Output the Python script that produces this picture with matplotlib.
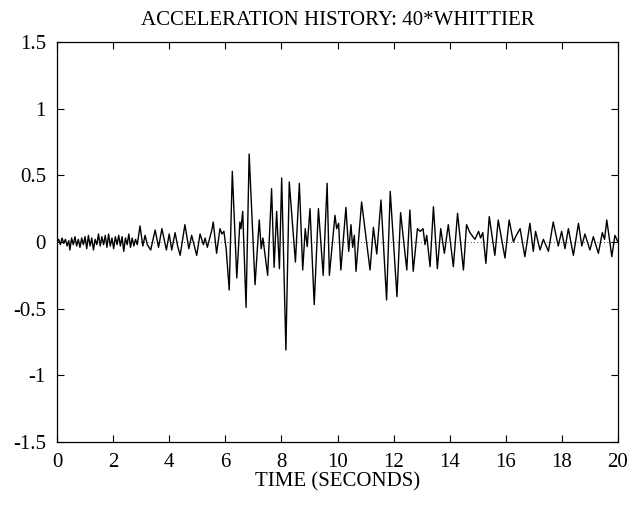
import numpy as np
import matplotlib
matplotlib.use('Agg')
import matplotlib.pyplot as plt

# turning points of the trace (time in s, acceleration in g)
t_pts = [0.00, 0.06, 0.12, 0.18, 0.24, 0.30, 0.36, 0.42, 0.46, 0.52,
         0.58, 0.64, 0.70, 0.76, 0.82, 0.88, 0.94, 1.00, 1.06, 1.12,
         1.18, 1.24, 1.30, 1.36, 1.42, 1.48, 1.54, 1.60, 1.66, 1.72,
         1.78, 1.84, 1.90, 1.96, 2.02, 2.08, 2.14, 2.20, 2.26, 2.32,
         2.38, 2.44, 2.50, 2.56, 2.62, 2.68, 2.74, 2.80, 2.86, 2.96,
         3.06, 3.14, 3.22, 3.34, 3.50, 3.62, 3.74, 3.90, 4.00, 4.09,
         4.21, 4.30, 4.39, 4.56, 4.70, 4.80, 4.98, 5.10, 5.22, 5.28,
         5.36, 5.52, 5.57, 5.69, 5.81, 5.88, 5.95, 6.03, 6.14, 6.25,
         6.41, 6.52, 6.56, 6.62, 6.74, 6.85, 7.06, 7.21, 7.28, 7.34,
         7.51, 7.65, 7.74, 7.83, 7.93, 8.01, 8.16, 8.28, 8.50, 8.64,
         8.76, 8.85, 8.92, 9.02, 9.17, 9.32, 9.49, 9.63, 9.71, 9.91,
         9.97, 10.04, 10.12, 10.30, 10.40, 10.48, 10.54, 10.60, 10.66, 10.86,
         11.16, 11.28, 11.40, 11.55, 11.75, 11.88, 12.12, 12.25, 12.47, 12.58,
         12.70, 12.85, 12.95, 13.05, 13.12, 13.18, 13.30, 13.42, 13.56, 13.68,
         13.81, 13.95, 14.13, 14.28, 14.49, 14.60, 14.72, 14.90, 15.03, 15.10,
         15.18, 15.29, 15.41, 15.61, 15.73, 15.97, 16.12, 16.27, 16.35, 16.51,
         16.68, 16.86, 16.98, 17.06, 17.22, 17.34, 17.52, 17.69, 17.87, 17.99,
         18.11, 18.23, 18.41, 18.59, 18.71, 18.82, 19.00, 19.12, 19.30, 19.44,
         19.52, 19.60, 19.78, 19.89, 20.00]
acc = [0.00, 0.02, -0.02, 0.03, -0.01, 0.02, -0.03, 0.01, -0.06, 0.03,
       -0.02, 0.04, -0.03, 0.02, -0.04, 0.03, -0.02, 0.04, -0.05, 0.05,
       -0.03, 0.03, -0.06, 0.02, -0.02, 0.06, -0.03, 0.04, -0.02, 0.05,
       -0.04, 0.06, -0.03, 0.03, -0.05, 0.04, -0.02, 0.05, -0.03, 0.04,
       -0.07, 0.03, -0.02, 0.06, -0.04, 0.03, -0.03, 0.02, -0.02, 0.12,
       -0.03, 0.05, -0.02, -0.06, 0.09, -0.04, 0.10, -0.06, 0.06, -0.06,
       0.07, -0.03, -0.10, 0.13, -0.05, 0.05, -0.10, 0.06, -0.02, 0.03,
       -0.04, 0.09, 0.15, -0.085, 0.10, 0.06, 0.08, -0.05, -0.36, 0.53,
       -0.27, 0.15, 0.10, 0.23, -0.49, 0.66, -0.32, 0.165, -0.05, 0.03,
       -0.25, 0.40, -0.19, 0.23, -0.20, 0.48, -0.81, 0.45, -0.15, 0.44,
       -0.21, 0.10, -0.035, 0.25, -0.47, 0.25, -0.25, 0.44, -0.25, 0.20,
       0.10, 0.14, -0.21, 0.26, -0.07, 0.13, -0.04, 0.05, -0.22, 0.30,
       -0.21, 0.11, -0.09, 0.315, -0.435, 0.38, -0.41, 0.22, -0.21, 0.24,
       -0.22, 0.10, 0.08, 0.10, -0.02, 0.05, -0.185, 0.265, -0.20, 0.10,
       -0.085, 0.13, -0.185, 0.215, -0.21, 0.13, 0.07, 0.02, 0.08, 0.03,
       0.07, -0.16, 0.19, -0.10, 0.165, -0.12, 0.165, 0.00, 0.04, 0.10,
       -0.11, 0.14, -0.07, 0.08, -0.06, 0.02, -0.07, 0.15, -0.03, 0.08,
       -0.05, 0.10, -0.10, 0.14, -0.03, 0.06, -0.06, 0.04, -0.085, 0.07,
       0.02, 0.165, -0.11, 0.05, 0.00]

x_ticks = [0, 2, 4, 6, 8, 10, 12, 14, 16, 18, 20]
y_ticks = [-1.5, -1, -0.5, 0, 0.5, 1, 1.5]
y_labels = ['-1.5', '-1', '-0.5', '0', '0.5', '1', '1.5']

plt.rcParams['font.family'] = ['Liberation Serif', 'DejaVu Serif']

fig = plt.figure(figsize=(6.38, 5.07), dpi=100)
ax = fig.add_axes([57/638, 1-442/507, 561/638, 400/507])

ax.plot(t_pts, acc, color='black', linewidth=1.0, solid_joinstyle='round')
ax.axhline(0, color='black', linewidth=0.6, linestyle=(0, (1, 3)))

ax.set_xlim(0, 20)
ax.set_ylim(-1.5, 1.5)
ax.set_xticks(x_ticks)
ax.set_xticklabels([str(v) for v in x_ticks])
ax.set_yticks(y_ticks)
ax.set_yticklabels(y_labels)
ax.tick_params(direction='in', top=True, right=True, length=5, width=0.8,
               labelsize=15)
ax.tick_params(axis='x', pad=8)
ax.tick_params(axis='y', pad=8)
for s in ax.spines.values():
    s.set_linewidth(0.9)

ax.set_title('ACCELERATION HISTORY: 40*WHITTIER', fontsize=15, pad=12)
ax.set_xlabel('TIME (SECONDS)', fontsize=15, labelpad=0)

fig.savefig('out.png', dpi=100)
